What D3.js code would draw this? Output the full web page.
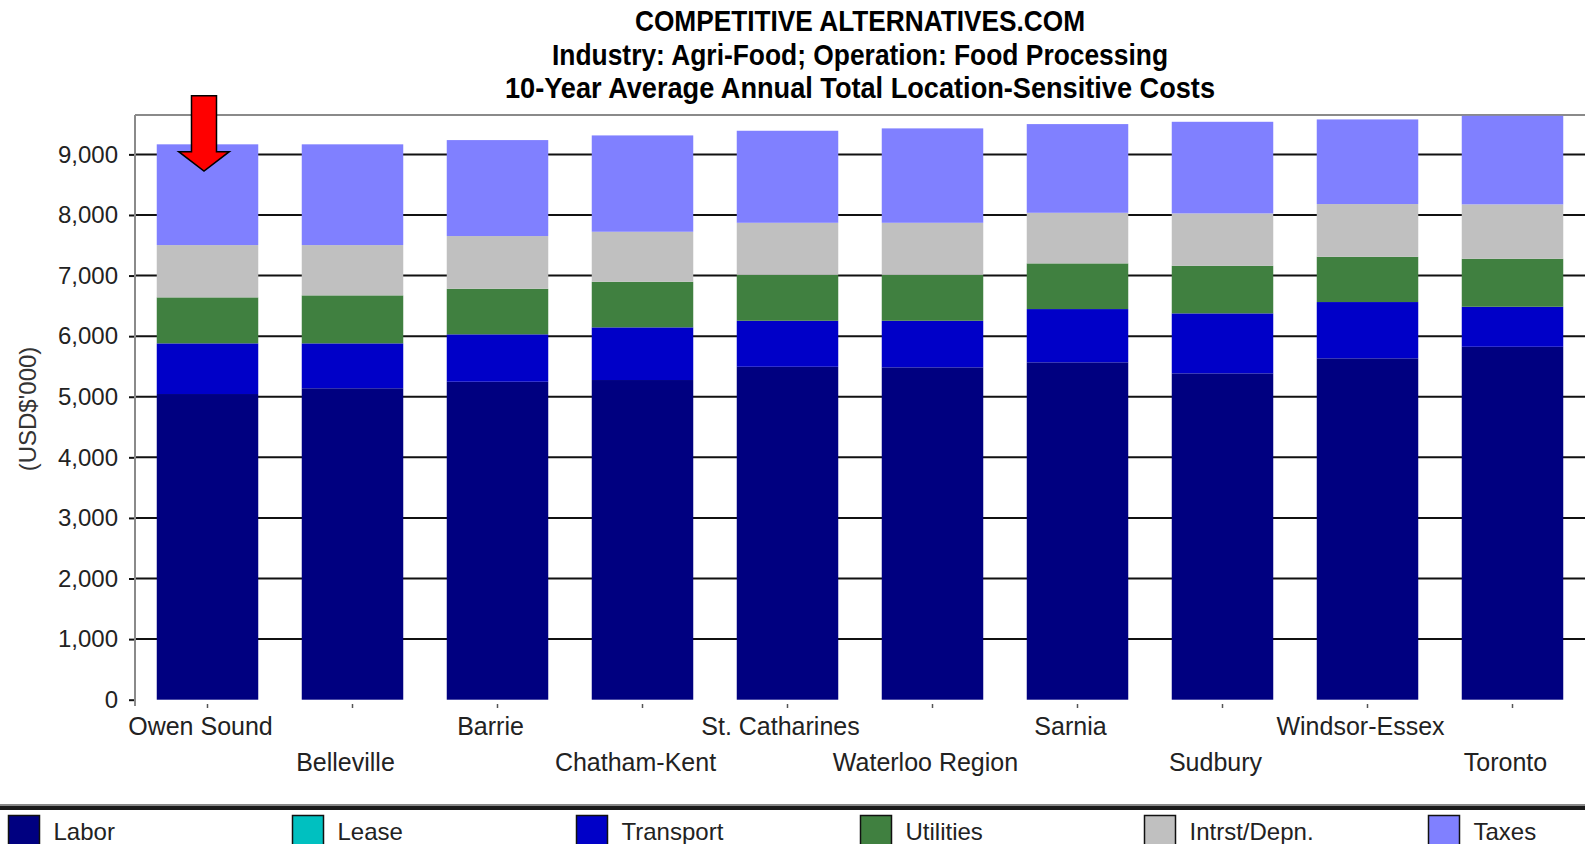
<!DOCTYPE html>
<html>
<head>
<meta charset="utf-8">
<script src="https://cdn.jsdelivr.net/npm/d3@7"></script>
<style>
  body { margin: 0; background: #fff; }
  svg { display: block; }
  text { font-family: "Liberation Sans", Arial, sans-serif; }
</style>
</head>
<body>
<main></main>
<script>
const width = 1585;
const height = 844;

// values (USD$'000)
const cities = ["Owen Sound", "Belleville", "Barrie", "Chatham-Kent", "St. Catharines",
                "Waterloo Region", "Sarnia", "Sudbury", "Windsor-Essex", "Toronto"];
const labor     = [5045, 5140, 5248, 5276, 5495, 5485, 5568, 5386, 5634, 5825];
const lease     = [0, 0, 0, 0, 0, 0, 0, 0, 0, 0];
const transport = [836, 741, 782, 869, 759, 769, 879, 990, 929, 660];
const utilities = [759, 792, 752, 753, 759, 759, 754, 786, 747, 792];
const interest  = [863, 830, 870, 825, 858, 858, 835, 864, 870, 898];
const taxes     = [1663, 1663, 1584, 1590, 1519, 1558, 1464, 1512, 1397, 1462];

const seriesNames  = ["Labor", "Lease", "Transport", "Utilities", "Intrst/Depn.", "Taxes"];
const seriesColors = ["#000080", "#00C0C0", "#0000C8", "#408040", "#C0C0C0", "#8080FF"];
const yTicks = [0, 1000, 2000, 3000, 4000, 5000, 6000, 7000, 8000, 9000];
const titleLines = ["COMPETITIVE ALTERNATIVES.COM",
                    "Industry: Agri-Food; Operation: Food Processing",
                    "10-Year Average Annual Total Location-Sensitive Costs"];

const seriesValues = [labor, lease, transport, utilities, interest, taxes];
const rows = cities.map((c, i) => {
    const row = {city: c};
    seriesNames.forEach((s, k) => row[s] = seriesValues[k][i]);
    return row;
});

const svg = d3.select("main").append("svg")
    .attr("width", width)
    .attr("height", height);

const plotLeft = 135, plotRight = 1585, plotTop = 115, plotBottom = 699.7;

const x = d3.scaleBand()
    .domain(cities)
    .range([plotLeft, plotRight])
    .paddingInner(0.3)
    .paddingOuter(0.15);

const y = d3.scaleLinear()
    .domain([0, 9650])
    .range([plotBottom, plotTop]);

const color = d3.scaleOrdinal().domain(seriesNames).range(seriesColors);

// title (squeezed to the narrow look of the original)
const titleWidths = [450, 616, 710];
const titleBase = [31, 64.5, 98];
titleLines.forEach((t, i) => {
    svg.append("text")
       .attr("x", 860)
       .attr("y", titleBase[i])
       .attr("text-anchor", "middle")
       .attr("textLength", titleWidths[i])
       .attr("lengthAdjust", "spacingAndGlyphs")
       .style("font-weight", "bold")
       .style("font-size", "30px")
       .attr("fill", "#000")
       .text(t);
});

// gridlines
svg.append("g")
   .selectAll("line")
   .data(yTicks.filter(d => d > 0))
   .enter()
   .append("line")
   .attr("x1", plotLeft)
   .attr("x2", plotRight)
   .attr("y1", d => y(d))
   .attr("y2", d => y(d))
   .attr("stroke", "#111")
   .attr("stroke-width", 2);

// frame top
svg.append("line")
   .attr("x1", plotLeft).attr("x2", plotRight)
   .attr("y1", plotTop).attr("y2", plotTop)
   .attr("stroke", "#8a8a8a").attr("stroke-width", 2);

// y axis
const yAxis = svg.append("g")
   .attr("transform", `translate(${plotLeft},0)`)
   .call(d3.axisLeft(y).tickValues(yTicks).tickSize(6).tickPadding(11)
           .tickFormat(d3.format(",")));
yAxis.select(".domain").remove();
yAxis.selectAll(".tick line").attr("stroke", "#111").attr("stroke-width", 2);
yAxis.selectAll(".tick text")
     .style("font-size", "24px")
     .attr("fill", "#222");
svg.append("line")
   .attr("x1", plotLeft).attr("x2", plotLeft)
   .attr("y1", plotTop).attr("y2", 706)
   .attr("stroke", "#8a8a8a").attr("stroke-width", 2);

svg.append("text")
   .attr("transform", "translate(36, 409) rotate(-90)")
   .attr("text-anchor", "middle")
   .style("font-size", "24px")
   .attr("fill", "#333")
   .text("(USD$'000)");

// stacked bars
const stacked = d3.stack().keys(seriesNames)(rows);
svg.append("g")
   .selectAll("g")
   .data(stacked)
   .enter()
   .append("g")
   .attr("fill", d => color(d.key))
   .selectAll("rect")
   .data(d => d)
   .enter()
   .append("rect")
   .attr("x", d => x(d.data.city))
   .attr("y", d => y(d[1]))
   .attr("width", x.bandwidth())
   .attr("height", d => Math.max(0, y(d[0]) - y(d[1])));

// x ticks and staggered labels
const xg = svg.append("g");
xg.selectAll("line")
  .data(cities)
  .enter()
  .append("line")
  .attr("x1", d => x(d) + x.bandwidth() / 2)
  .attr("x2", d => x(d) + x.bandwidth() / 2)
  .attr("y1", 704)
  .attr("y2", 708)
  .attr("stroke", "#555")
  .attr("stroke-width", 1.5);
xg.selectAll("text")
  .data(cities)
  .enter()
  .append("text")
  .attr("x", d => x(d) + x.bandwidth() / 2 - 7)
  .attr("y", (d, i) => i % 2 === 0 ? 735 : 771)
  .attr("text-anchor", "middle")
  .style("font-size", "25px")
  .attr("fill", "#222")
  .text(d => d);

// red arrow over the first city
const cx = x(cities[0]) + x.bandwidth() / 2 - 3.5;
svg.append("path")
   .attr("d", `M${cx - 12.5},95.7 L${cx + 12.5},95.7 L${cx + 12.5},151.7 L${cx + 25.3},151.7 ` +
              `L${cx},171 L${cx - 25.3},151.7 L${cx - 12.5},151.7 Z`)
   .attr("fill", "#FF0000")
   .attr("stroke", "#000")
   .attr("stroke-width", 1.5)
   .attr("stroke-linejoin", "miter");

// legend separator
svg.append("rect")
   .attr("x", 0).attr("y", 804).attr("width", width).attr("height", 2)
   .attr("fill", "#888");
svg.append("rect")
   .attr("x", 0).attr("y", 806).attr("width", width).attr("height", 4)
   .attr("fill", "#1a1a1a");

// legend
const legend = svg.append("g")
   .selectAll("g")
   .data(seriesNames)
   .enter()
   .append("g")
   .attr("transform", (d, i) => `translate(${8.5 + i * 284},0)`);
legend.append("rect")
   .attr("x", 0)
   .attr("y", 815.5)
   .attr("width", 31)
   .attr("height", 40)
   .attr("fill", d => color(d))
   .attr("stroke", "#111")
   .attr("stroke-width", 1.5);
legend.append("text")
   .attr("x", 45)
   .attr("y", 840)
   .style("font-size", "24px")
   .attr("fill", "#222")
   .text(d => d);
</script>
</body>
</html>
